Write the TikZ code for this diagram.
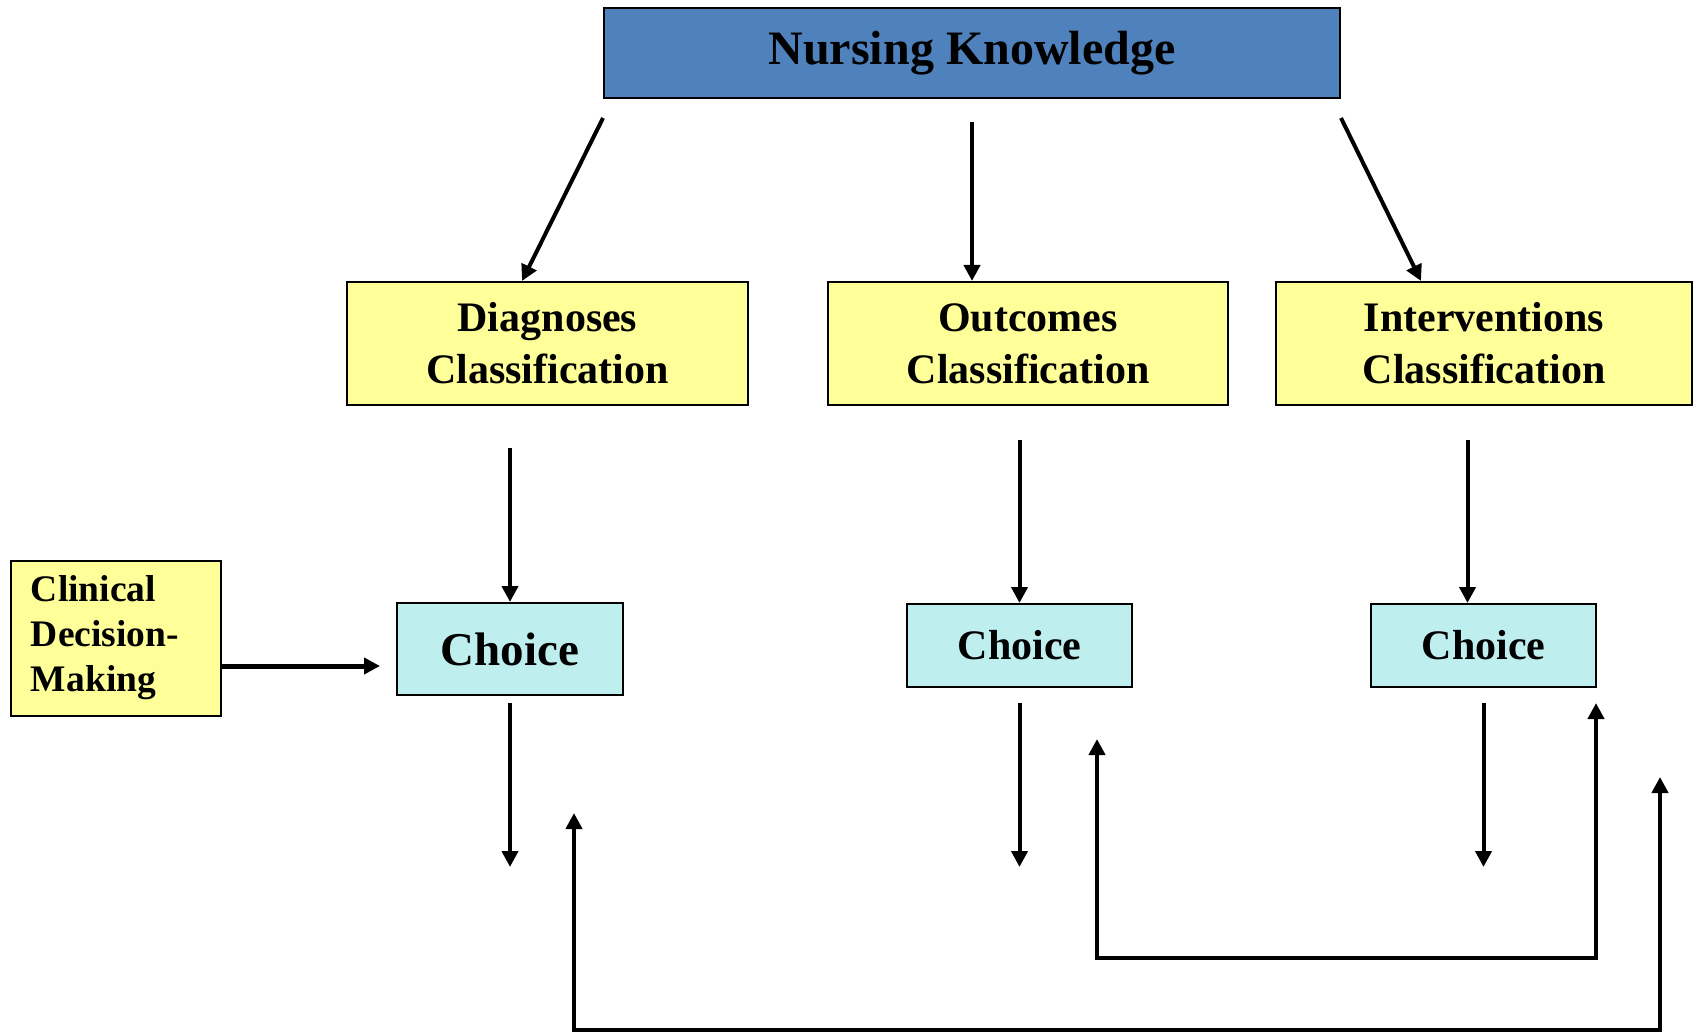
\documentclass[tikz,border=0pt]{standalone}
\usepackage{fontspec}
\setmainfont{Liberation Serif}
\usepackage{xcolor}
\usetikzlibrary{arrows.meta}
\definecolor{nkblue}{RGB}{79,129,189}
\definecolor{clsyellow}{RGB}{255,255,153}
\definecolor{choicecyan}{RGB}{190,238,238}

\begin{document}
\begin{tikzpicture}[x=0.5pt,y=-0.5pt,
  box/.style n args={3}{draw,line width=1pt,fill=#1,minimum width=#2,minimum height=#3,inner sep=0pt,align=center},
  clsfont/.style={font=\bfseries\fontsize{21}{26}\selectfont},
  arr/.style={line width=2pt,-{Triangle[length=8pt,width=8pt]}},
  backarr/.style={line width=2pt,{Triangle[length=8pt,width=8pt]}-{Triangle[length=8pt,width=8pt]}}]
\useasboundingbox (0,0) rectangle (1697,1032);
% top and classifications
\node[box={nkblue}{368pt}{45pt},font=\bfseries\fontsize{24}{29}\selectfont] (know) at (972,53) {Nursing Knowledge};
\node[box={clsyellow}{200.5pt}{61.5pt},clsfont] (diag) at (547.5,343.5) {Diagnoses\\Classification};
\node[box={clsyellow}{200pt}{61.5pt},clsfont] (outc) at (1028,343.5) {Outcomes\\Classification};
\node[box={clsyellow}{208pt}{61.5pt},clsfont] (intv) at (1484,343.5) {Interventions\\Classification};
% choices
\node[box={choicecyan}{113pt}{46pt},font=\bfseries\fontsize{23.5}{28}\selectfont] (ch1) at (510,649) {Choice};
\node[box={choicecyan}{112.5pt}{41.5pt},clsfont] (ch2) at (1019.5,645.5) {Choice};
\node[box={choicecyan}{112.5pt}{41.5pt},clsfont] (ch3) at (1483.5,645.5) {Choice};
\node[box={clsyellow}{105pt}{77.5pt},align=left,text width=85pt,
  font=\bfseries\fontsize{18.75}{22.5}\selectfont] (clin) at (116,638) {Clinical\\Decision-\\Making};
% arrows
\draw[arr] ([yshift=-9.5pt]know.south west) -- ([xshift=-12.75pt]diag.north);
\draw[arr] ([yshift=-11.5pt]know.south) -- (know.south |- outc.north);
\draw[arr] ([yshift=-9.5pt]know.south east) -- ([xshift=-31.5pt]intv.north);
\draw[arr] ([yshift=-21pt]ch1.north |- diag.south) -- (ch1.north);
\draw[arr] ([yshift=-17pt]ch2.north |- outc.south) -- (ch2.north);
\draw[arr] ([yshift=-17pt,xshift=-8pt]ch3.north |- intv.south) -- ([xshift=-8pt]ch3.north);
\foreach \c in {ch1,ch2,ch3} {
  \draw[arr] (\c.south |- 0,703) -- (\c.south |- 0,867);
}
\coordinate (cdm) at ([xshift=-8pt]ch1.west |- 0,666);
\draw[arr,line width=2.5pt] (clin.east |- 0,666) -- (cdm);
% feedback
\coordinate (back1) at (1097,739);
\coordinate (back1end) at (1596,703);
\coordinate (back2) at (574,813);
\coordinate (back2end) at (1660,777);
\draw[backarr] (back1) -- (1097,958) -- (1596,958) -- (back1end);
\draw[backarr] (back2) -- (574,1030) -- (1660,1030) -- (back2end);
\end{tikzpicture}
\end{document}
